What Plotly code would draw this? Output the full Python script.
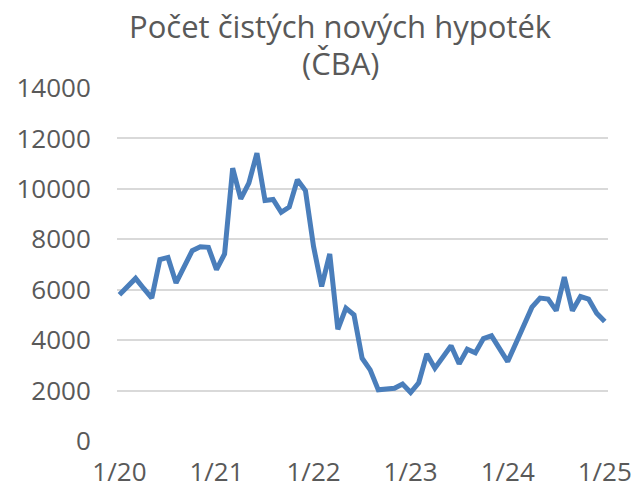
import plotly.graph_objects as go

# monthly counts, 1/2020 .. 1/2025
hypoteky = [
    5800, 6100, 6450, 6050, 5670, 7200, 7280, 6270, 6900, 7550, 7700, 7680,
    6800, 7420, 10820, 9600, 10230, 11420, 9540, 9580, 9070, 9280, 10360, 9930,
    7710, 6130, 7420, 4430, 5270, 5000, 3280, 2820, 2030, 2060, 2090, 2260,
    1920, 2310, 3450, 2890, 3330, 3780, 3060, 3640, 3500, 4060, 4170, 3660,
    3150, 3870, 4590, 5310, 5670, 5630, 5170, 6500, 5170, 5730, 5630, 5070,
    4740,
]
mesice = list(range(len(hypoteky)))
popisky = ["1/20", "1/21", "1/22", "1/23", "1/24", "1/25"]
pozice = [0, 12, 24, 36, 48, 60]
y_ticks = [0, 2000, 4000, 6000, 8000, 10000, 12000, 14000]
y_popisky = [str(v) for v in y_ticks]
titulek = ["Počet čistých nových hypoték", "(ČBA)"]

seda = "#595959"
font = "Open Sans"

fig = go.Figure()
fig.add_trace(go.Scatter(
    x=mesice, y=hypoteky, mode="lines",
    line=dict(color="#4a7ebb", width=5),
    hoverinfo="skip",
))

# title as two annotations so the line spacing can be set
fig.add_annotation(text=titulek[0], xref="paper", yref="paper",
                   x=0.455, y=1.175, xanchor="center", yanchor="middle",
                   showarrow=False, font=dict(family=font, size=31, color=seda))
fig.add_annotation(text=titulek[1], xref="paper", yref="paper",
                   x=0.455, y=1.072, xanchor="center", yanchor="middle",
                   showarrow=False, font=dict(family=font, size=31, color=seda))

# page body has an 8px margin, so the figure is a bit smaller than the window
fig.update_layout(
    width=632, height=484,
    paper_bgcolor="white", plot_bgcolor="white",
    margin=dict(l=109, r=32, t=80, b=51),
    showlegend=False,
    font=dict(family=font, color=seda, size=25),
)
fig.update_xaxes(
    range=[-0.3, 60.4],
    tickvals=pozice, ticktext=popisky,
    showgrid=False, zeroline=False, showline=False,
    ticks="outside", ticklen=8, tickcolor="rgba(0,0,0,0)",
    automargin=False,
    tickfont=dict(size=26, color=seda),
)
fig.update_yaxes(
    range=[0, 14000],
    tickvals=y_ticks, ticktext=y_popisky,
    showgrid=True, gridcolor="#d9d9d9", gridwidth=2,
    zeroline=False, showline=False,
    ticks="outside", ticklen=20, tickcolor="rgba(0,0,0,0)",
    automargin=False,
    tickfont=dict(size=26, color=seda),
)

fig.write_html("out.html")
